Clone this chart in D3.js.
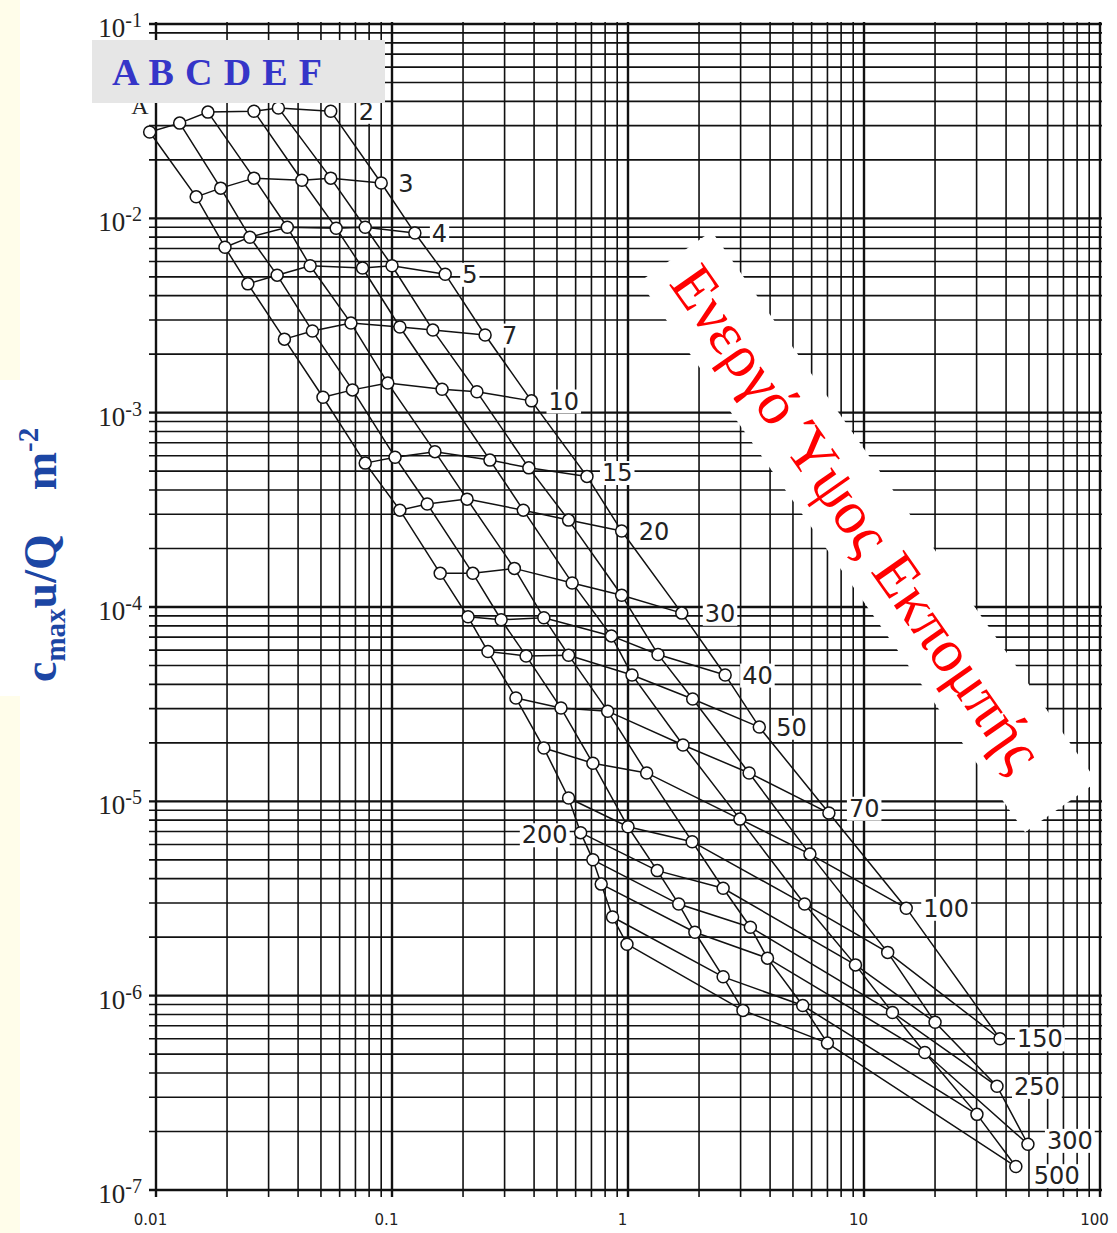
<!DOCTYPE html>
<html>
<head>
<meta charset="utf-8">
<script src="https://cdn.jsdelivr.net/npm/d3@7"></script>
<style>
  body { margin: 0; background: #fff; }
  svg { display: block; }
</style>
</head>
<body>
<script>
// effective stack heights (m), one polyline each
const heights = [2, 3, 4, 5, 7, 10, 15, 20, 30, 40, 50, 70, 100, 150, 200, 250, 300, 400, 500];
const classes = ["A", "B", "C", "D", "E", "F"];

// distance of maximum (km) and max c*u/Q (m^-2) per stability class, indexed like heights
const distA = [0.0094, 0.0148, 0.0196, 0.0245, 0.035, 0.051, 0.077, 0.108, 0.16, 0.21, 0.255, 0.335, 0.44, 0.56, 0.63, 0.71, 0.77, 0.86, 0.99];
const concA = [2.78e-2, 1.29e-2, 7.1e-3, 4.6e-3, 2.39e-3, 1.2e-3, 5.5e-4, 3.15e-4, 1.49e-4, 8.9e-5, 5.9e-5, 3.4e-5, 1.88e-5, 1.04e-5, 6.9e-6, 5.0e-6, 3.75e-6, 2.54e-6, 1.84e-6];

const distB = [0.0126, 0.0188, 0.025, 0.0326, 0.046, 0.068, 0.103, 0.141, 0.22, 0.29, 0.37, 0.52, 0.71, 1.0, 1.33, 1.64, 1.92, 2.53, 3.07];
const concB = [3.09e-2, 1.43e-2, 8.0e-3, 5.1e-3, 2.63e-3, 1.31e-3, 5.9e-4, 3.39e-4, 1.49e-4, 8.6e-5, 5.6e-5, 3.02e-5, 1.57e-5, 7.4e-6, 4.4e-6, 2.96e-6, 2.12e-6, 1.25e-6, 8.4e-7];

const distC = [0.0166, 0.026, 0.036, 0.045, 0.067, 0.096, 0.152, 0.208, 0.33, 0.44, 0.56, 0.82, 1.2, 1.87, 2.53, 3.3, 3.9, 5.5, 7.0];
const concC = [3.52e-2, 1.61e-2, 9.0e-3, 5.7e-3, 2.89e-3, 1.42e-3, 6.3e-4, 3.59e-4, 1.58e-4, 8.8e-5, 5.65e-5, 2.91e-5, 1.4e-5, 6.2e-6, 3.57e-6, 2.25e-6, 1.56e-6, 8.9e-7, 5.7e-7];

const distD = [0.026, 0.0415, 0.058, 0.075, 0.108, 0.163, 0.26, 0.36, 0.58, 0.85, 1.04, 1.71, 2.98, 5.6, 9.2, 13.2, 18.1, 30.1, 44];
const concD = [3.56e-2, 1.57e-2, 8.9e-3, 5.55e-3, 2.76e-3, 1.32e-3, 5.7e-4, 3.15e-4, 1.33e-4, 7.1e-5, 4.47e-5, 1.95e-5, 8.1e-6, 2.96e-6, 1.44e-6, 8.2e-7, 5.1e-7, 2.45e-7, 1.32e-7];

const distE = [0.033, 0.055, 0.077, 0.1, 0.149, 0.229, 0.38, 0.56, 0.94, 1.34, 1.88, 3.26, 5.9, 12.6, 20, 36.6, 49.5, null, null];
const concE = [3.7e-2, 1.61e-2, 9.0e-3, 5.7e-3, 2.66e-3, 1.28e-3, 5.2e-4, 2.8e-4, 1.15e-4, 5.7e-5, 3.36e-5, 1.4e-5, 5.35e-6, 1.67e-6, 7.3e-7, 3.42e-7, 1.72e-7, null, null];

const distF = [0.055, 0.09, 0.125, 0.168, 0.248, 0.39, 0.67, 0.94, 1.69, 2.58, 3.6, 7.1, 15.1, 37.7, null, null, null, null, null];
const concF = [3.56e-2, 1.52e-2, 8.4e-3, 5.16e-3, 2.51e-3, 1.15e-3, 4.7e-4, 2.46e-4, 9.3e-5, 4.47e-5, 2.41e-5, 8.7e-6, 2.82e-6, 6.0e-7, null, null, null, null, null];

// heights that carry a number on the chart (400 has none)
const labelledHeights = [2, 3, 4, 5, 7, 10, 15, 20, 30, 40, 50, 70, 100, 150, 200, 250, 300, 500];
const xTickLabels = [0.01, 0.1, 1, 10, 100];
const yTickLabels = [1e-1, 1e-2, 1e-3, 1e-4, 1e-5, 1e-6, 1e-7];

const dist = { A: distA, B: distB, C: distC, D: distD, E: distE, F: distF };
const conc = { A: concA, B: concB, C: concC, D: concD, E: concE, F: concF };

// label nudges (px) relative to the end point of each height line
const labelNudge = { 2: [28, 0], 15: [15, -4], 30: [23, 0], 70: [20, -5], 300: [19, -4], 500: [18, 9] };

const width = 1117, height = 1233;
const svg = d3.select("body").append("svg").attr("width", width).attr("height", height);

const x = d3.scaleLog().domain([0.01, 100]).range([156, 1100]);
const y = d3.scaleLog().domain([1e-7, 1e-1]).range([1190, 24]);

// background bits
svg.append("rect").attr("width", width).attr("height", height).attr("fill", "#fff");
svg.append("rect").attr("x", 0).attr("y", 0).attr("width", 20).attr("height", height).attr("fill", "#fffdea");
svg.append("rect").attr("x", 0).attr("y", 380).attr("width", 76).attr("height", 316).attr("fill", "#fff");

// log grid
const isMajor = (v) => Math.abs(Math.log10(v) - Math.round(Math.log10(v))) < 1e-6;
const grid = svg.append("g");
grid.selectAll("line.v").data(x.ticks()).join("line")
  .attr("class", "v")
  .attr("x1", (d) => x(d)).attr("x2", (d) => x(d))
  .attr("y1", 22).attr("y2", 1197)
  .attr("stroke", "#111")
  .attr("stroke-width", (d) => (isMajor(d) ? 2.4 : 1.6));
grid.selectAll("line.h").data(y.ticks()).join("line")
  .attr("class", "h")
  .attr("x1", 149).attr("x2", 1102)
  .attr("y1", (d) => y(d)).attr("y2", (d) => y(d))
  .attr("stroke", "#111")
  .attr("stroke-width", (d) => (isMajor(d) ? 2.4 : 1.6));

// x tick labels
const xAxis = svg.append("g")
  .attr("transform", "translate(-6,1190)")
  .call(d3.axisBottom(x).tickValues(xTickLabels).tickFormat(d3.format("~g")).tickSize(0).tickPadding(24));
xAxis.select(".domain").remove();
xAxis.selectAll("text").attr("font-family", "DejaVu Sans").attr("font-size", 15).attr("fill", "#222");

// y tick labels: 10 with superscript exponent
const yLab = svg.append("g").selectAll("text").data(yTickLabels).join("text")
  .attr("x", 142)
  .attr("y", (d) => y(d) + 13)
  .attr("text-anchor", "end")
  .attr("font-family", "Liberation Serif")
  .attr("font-size", 27)
  .attr("fill", "#222");
yLab.append("tspan").text("10");
yLab.append("tspan").attr("dy", -10).attr("font-size", 20).text((d) => Math.round(Math.log10(d)));

// "Ενεργό Ύψος Εκπομπής" band
const band = svg.append("g").attr("transform", "translate(858,517) rotate(55)");
band.append("rect").attr("x", -318).attr("y", -44).attr("width", 672).attr("height", 88).attr("fill", "#fff");
band.append("text")
  .attr("text-anchor", "middle")
  .attr("dy", "0.35em")
  .attr("font-family", "Liberation Serif")
  .attr("font-size", 61)
  .attr("fill", "#ff0000")
  .text("Ενεργό Ύψος Εκπομπής");

// curves
const line = d3.line().x((d) => x(d.x)).y((d) => y(d.y));

const classCurves = classes.map((c) =>
  heights.map((h, i) => ({ x: dist[c][i], y: conc[c][i] })).filter((p) => p.x != null)
);
const heightRows = heights.map((h, i) => ({
  h,
  pts: classes.map((c) => ({ x: dist[c][i], y: conc[c][i] })).filter((p) => p.x != null),
}));

const curves = svg.append("g").attr("fill", "none").attr("stroke", "#111").attr("stroke-width", 1.5);
curves.selectAll("path.cls").data(classCurves).join("path").attr("class", "cls").attr("d", line);
curves.selectAll("path.row").data(heightRows).join("path").attr("class", "row").attr("d", (d) => line(d.pts));

const allPts = heightRows.flatMap((r) => r.pts);
svg.append("g").selectAll("circle").data(allPts).join("circle")
  .attr("cx", (d) => x(d.x)).attr("cy", (d) => y(d.y))
  .attr("r", 6)
  .attr("fill", "#fff")
  .attr("stroke", "#111")
  .attr("stroke-width", 1.5);

// height labels
const labG = svg.append("g");
labelledHeights.forEach((h) => {
  const row = heightRows.find((r) => r.h === h);
  let px, py, anchor;
  if (h === 200) {
    const p = row.pts[0];
    px = x(p.x) - 13; py = y(p.y) + 2; anchor = "end";
  } else {
    const p = row.pts[row.pts.length - 1];
    const n = labelNudge[h] || [17, 0];
    px = x(p.x) + n[0]; py = y(p.y) + n[1]; anchor = "start";
  }
  const t = labG.append("text")
    .attr("x", px).attr("y", py)
    .attr("dy", "0.36em")
    .attr("text-anchor", anchor)
    .attr("font-family", "DejaVu Sans")
    .attr("font-size", 24)
    .attr("fill", "#222")
    .text(h);
  const bb = t.node().getBBox();
  labG.insert("rect", () => t.node())
    .attr("x", bb.x - 2).attr("y", bb.y + 2)
    .attr("width", bb.width + 4).attr("height", bb.height - 4)
    .attr("fill", "#fff");
});

// class "A" marker under the legend box
svg.append("text")
  .attr("x", 140).attr("y", 114)
  .attr("text-anchor", "middle")
  .attr("font-family", "Liberation Serif")
  .attr("font-size", 24)
  .attr("fill", "#222")
  .text("A");

// legend box with class letters
svg.append("rect").attr("x", 92).attr("y", 40).attr("width", 293).attr("height", 63).attr("fill", "#e6e6e6");
svg.append("text")
  .attr("x", 112).attr("y", 85)
  .attr("font-family", "Liberation Serif")
  .attr("font-weight", "bold")
  .attr("font-size", 38)
  .attr("fill", "#3535c8")
  .attr("textLength", 210)
  .attr("lengthAdjust", "spacing")
  .text(classes.join(" "));

// y axis title
const title = svg.append("text")
  .attr("transform", "translate(56,682) rotate(-90)")
  .attr("font-family", "Liberation Serif")
  .attr("font-weight", "bold")
  .attr("font-size", 46)
  .attr("fill", "#1c46a4");
title.append("tspan").text("c");
title.append("tspan").attr("font-size", 29).attr("dy", 9).text("max");
title.append("tspan").attr("dy", -9).text("u/Q");
title.append("tspan").attr("dx", 44).text("m");
title.append("tspan").attr("font-size", 29).attr("dy", -18).text("-2");
</script>
</body>
</html>
